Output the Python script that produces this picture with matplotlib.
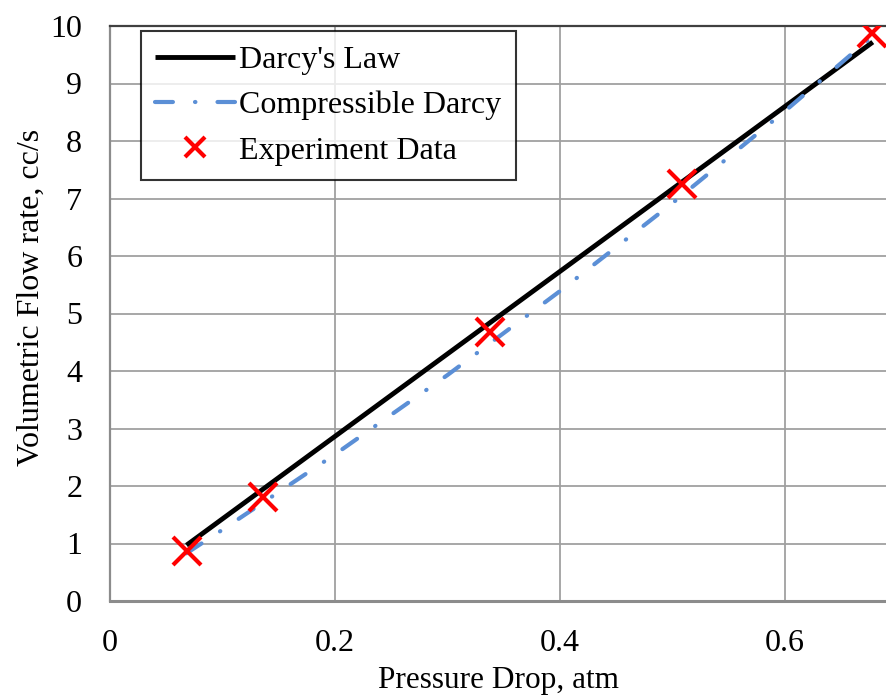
import matplotlib
matplotlib.use("Agg")
import matplotlib.pyplot as plt

plt.rcParams['font.family'] = ['Liberation Serif', 'DejaVu Serif']

# Data
darcy_x = [0.068, 0.678]
darcy_y = [0.97, 9.72]

comp_x = [0.068, 0.1, 0.2, 0.3, 0.4, 0.5, 0.6, 0.68]
comp_y = [0.83, 1.24, 2.55, 3.93, 5.39, 6.92, 8.52, 9.86]

exp_x = [0.068, 0.136, 0.338, 0.508, 0.677]
exp_y = [0.87, 1.81, 4.68, 7.25, 9.87]

xticks = [0, 0.2, 0.4, 0.6]
xtick_labels = ['0', '0.2', '0.4', '0.6']
yticks = list(range(0, 11))

fig = plt.figure(figsize=(8.86, 7.0), dpi=100)
ax = fig.add_axes([110/886, 1-601/700, 1-110/886, 575/700])

ax.plot(darcy_x, darcy_y, color='black', lw=3.5, solid_capstyle='butt', label="Darcy's Law", zorder=3)
ax.plot(comp_x, comp_y, color='#5B8FD6', lw=3.0, dashes=(4.3, 5.3, 0.1, 5.3), dash_capstyle='round',
        label='Compressible Darcy', zorder=3)
ax.plot(exp_x, exp_y, linestyle='none', marker='x', color='#FF0000', markersize=20, mew=3,
        label='Experiment Data', zorder=4)

ax.set_xlim(0, (886-110)/1125*1.0)
ax.set_ylim(0, 10)
ax.set_xticks(xticks)
ax.set_xticklabels(xtick_labels)
ax.set_yticks(yticks)
ax.grid(True, color='#A0A0A0', lw=1.3)
ax.set_axisbelow(True)
ax.tick_params(length=0, labelsize=23)
ax.tick_params(axis='x', pad=20)
ax.tick_params(axis='y', pad=20)
for side in ['left', 'bottom']:
    ax.spines[side].set_color('#8C8C8C')
    ax.spines[side].set_linewidth(1.6)
ax.spines['bottom'].set_linewidth(2.2)
ax.spines['top'].set_color('#404040')
ax.spines['top'].set_linewidth(1.6)
ax.spines['right'].set_visible(False)

ax.set_xlabel('Pressure Drop, atm', fontsize=22.5, labelpad=6)
ax.set_ylabel('Volumetric Flow rate, cc/s', fontsize=23, labelpad=3)
ax.yaxis.label.set_y(0.528)

leg = ax.legend(loc='upper left', bbox_to_anchor=(31/776, 1-5/575), fontsize=23, frameon=True,
                fancybox=False, edgecolor='black', handlelength=2.5, handletextpad=0.12,
                borderpad=0.45, labelspacing=0.5, borderaxespad=0, markerscale=0.7)
leg.get_frame().set_linewidth(1.5)

fig.savefig('out.png', dpi=100)
